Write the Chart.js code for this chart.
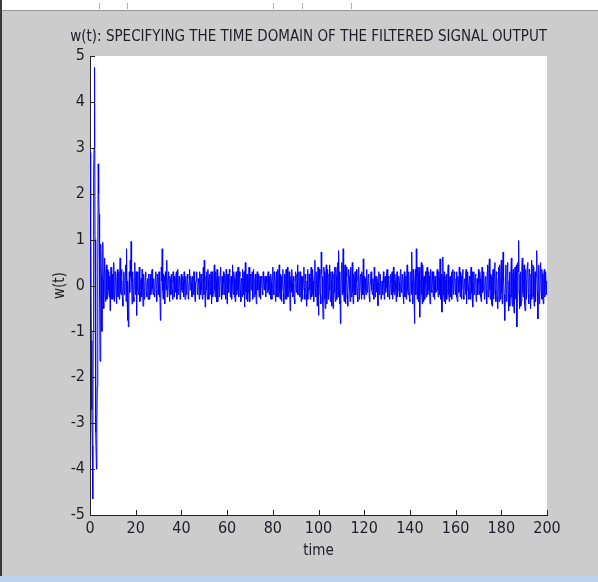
<!DOCTYPE html>
<html>
<head>
<meta charset="utf-8">
<script src="https://cdn.jsdelivr.net/npm/chart.js@4.4.1/dist/chart.umd.min.js"></script>
<style>
  html, body { margin: 0; padding: 0; background: #cccccc; overflow: hidden; }
  canvas { display: block; }
</style>
</head>
<body>
<canvas id="signalChart" width="598" height="582"></canvas>
<script>
const chartTitle = 'w(t): SPECIFYING THE TIME DOMAIN OF THE FILTERED SIGNAL OUTPUT';
const xAxisLabel = 'time';
const yAxisLabel = 'w(t)';

// sampling interval of the signal (time units)
const sampleStep = 0.2;

// w(t) values, one per sample (40 samples = 8 time units per row)
const wValues = [
  0, 2.9, 1.1, -1.2, -2.7, -3.5, -4.65, -1.0, 2.4, 3.0, 4.75, 1.0, -2.5, -3.2, -4.0, -3.0, -2.2, 0.5, 2.65, 2.0, 1.55, -0.3, -1.65, -0.5, 0.9, 0.2, -1.0, -0.2, 0.94, 0.1, -0.5, 0.3, 0.6, -0.2, -0.35, 0.25, 0.45, -0.3, -0.2, 0.35,
  0.3, -0.1, -0.25, 0.2, -0.55, 0.05, 0.4, -0.3, 0.1, 0.25, -0.3, 0.15, 0.5, -0.35, -0.15, 0.3, 0.2, -0.2, -0.4, 0.1, 0.35, -0.25, 0.05, 0.3, -0.3, 0.2, 0.6, -0.15, -0.2, 0.35, 0.15, -0.3, -0.45, 0.1, 0.3, -0.2, -0.1, 0.25, 0.45, -0.35,
  0.8, -0.2, -0.76, 0.1, -0.9, -0.3, 0.3, -0.15, 0.55, 0.2, 0.96, 0.1, -0.4, 0.3, 0.2, -0.25, -0.35, 0.15, 0.5, -0.2, 0.1, 0.3, -0.65, -0.1, 0.3, 0.05, -0.2, 0.25, 0.4, -0.35, -0.3, 0.1, 0.15, -0.25, 0.35, 0.05, -0.45, 0.25, 0.2, -0.3,
  -0.1, 0.2, 0.3, -0.15, -0.25, 0.1, 0.15, -0.3, 0.05, 0.25, -0.3, 0.1, 0.25, -0.2, -0.1, 0.3, 0.35, -0.05, -0.2, 0.15, 0.1, -0.25, -0.15, 0.2, 0.3, -0.1, -0.35, 0.25, 0.2, -0.2, 0.0, 0.3, -0.25, 0.1, -0.76, -0.3, 0.4, 0.1, 0.8, -0.1,
  -0.3, 0.25, 0.2, -0.15, -0.4, 0.3, 0.1, -0.1, 0.55, -0.25, -0.2, 0.15, 0.3, -0.1, -0.35, 0.2, 0.15, -0.2, 0.25, 0.05, -0.1, -0.3, 0.3, 0.1, -0.25, 0.2, 0.05, -0.15, 0.2, 0.3, -0.3, 0.05, 0.35, -0.2, -0.05, 0.2, 0.15, -0.3, -0.2, 0.1,
  0.25, -0.1, -0.15, 0.2, 0.1, -0.25, 0.3, 0.05, -0.3, 0.15, 0.2, -0.2, -0.05, 0.25, 0.15, -0.3, -0.25, 0.1, 0.35, -0.1, -0.1, 0.2, 0.05, -0.25, 0.2, 0.1, -0.2, 0.3, 0.3, -0.15, -0.35, 0.05, 0.1, 0.3, 0.25, -0.2, -0.15, 0.15, 0.05, -0.3,
  0.3, 0.05, -0.2, 0.25, 0.15, -0.1, -0.3, 0.2, 0.4, -0.2, 0.55, 0.1, -0.47, -0.1, 0.2, 0.3, -0.1, -0.3, 0.35, 0.1, -0.3, 0.15, 0.25, -0.2, 0.05, 0.3, -0.4, -0.05, 0.3, -0.25, -0.15, 0.2, 0.45, -0.1, -0.25, 0.3, 0.1, -0.35, 0.35, -0.05,
  -0.35, 0.1, 0.2, -0.25, -0.1, 0.3, 0.4, -0.05, -0.3, 0.2, 0.15, -0.2, 0.3, 0.05, -0.2, 0.25, 0.05, -0.3, 0.35, 0.1, -0.4, 0.2, 0.25, -0.1, -0.15, 0.35, 0.3, -0.25, 0.1, 0.2, -0.3, 0.05, 0.45, -0.15, -0.2, 0.3, 0.15, -0.25, -0.35, 0.2,
  0.3, -0.2, -0.1, 0.25, 0.4, -0.15, -0.25, 0.3, 0.2, -0.1, -0.35, 0.15, 0.1, -0.25, 0.35, 0.05, -0.2, 0.3, -0.47, 0.1, 0.5, -0.15, -0.3, 0.2, 0.25, -0.35, -0.15, 0.1, 0.4, -0.2, -0.35, 0.25, 0.2, -0.1, 0.05, 0.3, -0.3, 0.15, 0.35, -0.25,
  -0.15, 0.1, 0.25, -0.2, -0.4, 0.15, 0.3, -0.1, 0.1, 0.25, -0.25, 0.05, 0.2, -0.3, -0.05, 0.2, 0.15, -0.15, -0.2, 0.3, 0.1, -0.1, 0.05, 0.2, -0.1, -0.25, 0.2, 0.05, -0.15, 0.25, 0.3, -0.1, -0.2, 0.2, 0.1, -0.3, 0.25, 0.05, -0.3, 0.2,
  0.4, -0.1, -0.2, 0.3, 0.15, -0.2, -0.35, 0.1, 0.3, -0.25, 0.05, 0.35, -0.25, 0.1, 0.45, -0.15, -0.3, 0.25, 0.2, -0.35, -0.1, 0.15, 0.35, -0.2, -0.4, 0.05, 0.25, -0.3, 0.1, 0.35, -0.3, 0.1, 0.4, -0.25, -0.15, 0.2, 0.3, -0.1, -0.55, 0.15,
  0.2, -0.15, 0.35, 0.05, -0.25, 0.2, 0.1, -0.3, -0.4, 0.15, 0.3, -0.1, -0.15, 0.25, 0.45, -0.2, -0.2, 0.3, 0.05, -0.25, 0.3, 0.1, -0.35, 0.2, 0.2, -0.3, -0.1, 0.15, 0.4, -0.05, -0.3, 0.25, 0.15, -0.2, -0.45, 0.1, 0.35, -0.3, -0.05, 0.25,
  0.25, -0.1, -0.3, 0.2, 0.4, -0.25, -0.2, 0.35, 0.1, -0.3, -0.35, 0.2, 0.55, -0.1, -0.25, 0.3, 0.3, -0.45, 0.1, 0.4, -0.65, -0.2, 0.35, 0.15, -0.2, -0.4, 0.73, 0.25, 0.2, -0.35, -0.73, 0.1, 0.4, 0.3, -0.3, -0.5, 0.15, 0.45, -0.4, 0.2,
  0.35, -0.3, -0.2, 0.25, 0.45, -0.1, -0.35, 0.3, 0.1, -0.45, 0.3, 0.15, -0.5, -0.2, 0.25, 0.4, -0.15, -0.35, 0.4, 0.2, -0.3, 0.1, 0.5, -0.25, 0.76, 0.2, -0.4, 0.3, -0.83, -0.2, 0.3, 0.5, -0.2, 0.1, 0.8, -0.15, -0.35, 0.2, 0.45, -0.4,
  -0.3, 0.4, 0.2, -0.2, -0.45, 0.1, 0.35, 0.2, -0.1, -0.35, 0.4, 0.1, -0.25, 0.3, 0.5, -0.15, -0.4, 0.25, 0.15, -0.2, 0.3, 0.05, -0.2, 0.35, 0.1, -0.25, -0.35, 0.2, 0.4, -0.3, -0.15, 0.2, 0.25, -0.1, -0.3, 0.3, 0.2, -0.2, 0.58, -0.05,
  -0.3, 0.2, 0.15, -0.1, -0.2, 0.3, 0.35, -0.15, -0.1, 0.2, 0.25, -0.25, -0.35, 0.05, 0.1, 0.3, 0.3, -0.1, -0.2, 0.15, 0.05, -0.3, 0.4, 0.1, -0.25, 0.2, 0.15, -0.15, 0.2, 0.05, -0.44, 0.15, 0.3, -0.2, -0.1, 0.25, 0.25, -0.3, -0.2, 0.1,
  0.1, -0.2, 0.3, 0.05, -0.3, 0.15, 0.2, -0.15, -0.05, 0.25, 0.35, -0.1, -0.25, 0.2, 0.15, -0.3, -0.15, 0.1, 0.25, -0.2, 0.05, 0.3, -0.3, 0.1, 0.4, -0.15, -0.2, 0.25, 0.1, -0.1, -0.35, 0.2, 0.3, -0.25, -0.1, 0.15, 0.2, 0.05, -0.25, 0.3,
  0.35, -0.1, -0.15, 0.25, 0.2, -0.2, -0.4, 0.1, 0.3, -0.25, 0.05, 0.2, -0.3, 0.15, 0.45, -0.1, -0.2, 0.3, 0.1, -0.3, -0.35, 0.2, 0.3, -0.2, 0.73, 0.1, -0.4, 0.35, 0.2, -0.3, -0.83, 0.1, 0.35, -0.2, 0.8, 0.2, -0.3, 0.4, 0.25, -0.35,
  0.4, -0.2, -0.69, 0.1, 0.3, 0.5, -0.2, -0.4, 0.45, 0.15, -0.35, 0.2, 0.15, -0.3, 0.3, 0.05, -0.25, 0.35, 0.4, -0.2, -0.1, 0.3, 0.2, -0.15, -0.4, 0.25, 0.35, -0.1, -0.15, 0.3, 0.1, -0.25, 0.3, 0.1, -0.3, 0.2, 0.2, -0.15, -0.1, 0.3,
  0.35, -0.1, -0.25, 0.3, 0.15, -0.2, 0.58, 0.1, -0.3, 0.25, -0.58, -0.1, 0.62, 0.2, -0.2, -0.35, 0.3, 0.1, -0.4, 0.2, 0.25, -0.3, -0.1, 0.35, 0.45, -0.2, -0.35, 0.15, 0.2, -0.25, 0.05, 0.3, -0.3, 0.1, 0.35, -0.2, -0.15, 0.3, 0.25, -0.1,
  -0.2, 0.15, 0.3, -0.25, -0.35, 0.2, 0.1, -0.15, 0.4, 0.05, -0.25, 0.3, 0.2, -0.3, -0.1, 0.25, 0.35, -0.2, -0.3, 0.1, 0.15, -0.2, 0.25, 0.35, -0.4, -0.1, 0.3, 0.15, -0.05, -0.3, 0.2, 0.1, -0.3, 0.25, 0.4, -0.15, -0.2, 0.3, -0.47, 0.05,
  0.3, -0.2, -0.15, 0.2, 0.25, -0.35, -0.3, 0.15, 0.1, -0.2, 0.35, 0.05, -0.2, 0.3, 0.15, -0.25, -0.35, 0.1, 0.4, -0.15, -0.1, 0.25, 0.3, -0.3, -0.25, 0.15, 0.2, -0.1, -0.4, 0.3, 0.45, -0.25, -0.2, 0.35, 0.58, -0.1, -0.3, 0.25, 0.2, -0.4,
  -0.45, 0.2, 0.35, -0.3, -0.2, 0.4, 0.5, -0.1, -0.35, 0.3, 0.25, -0.25, -0.5, 0.15, 0.4, -0.35, 0.1, 0.45, -0.3, 0.2, 0.55, -0.15, -0.4, 0.3, 0.73, 0.1, -0.2, -0.5, -0.76, 0.2, 0.45, -0.35, -0.3, 0.4, 0.5, -0.2, -0.55, 0.1, 0.3, -0.45,
  -0.2, 0.3, 0.6, -0.25, -0.45, 0.2, 0.35, -0.4, -0.6, 0.15, 0.4, -0.3, 0.2, 0.45, -0.9, -0.2, 0.5, 0.3, 0.98, -0.1, -0.5, 0.25, 0.3, -0.45, -0.35, 0.4, 0.6, -0.15, -0.25, 0.3, 0.45, -0.4, -0.55, 0.2, 0.35, -0.3, -0.3, 0.45, 0.5, -0.2,
  -0.4, 0.35, 0.3, -0.2, -0.5, 0.25, 0.55, -0.3, -0.2, 0.45, 0.4, -0.25, -0.45, 0.1, 0.3, -0.35, 0.2, 0.5, 0.76, -0.15, -0.73, 0.2, 0.45, -0.4, -0.35, 0.3, 0.5, -0.1, -0.3, 0.35, 0.25, -0.3, -0.4, 0.15, 0.35, -0.25, 0.1, 0.3, -0.2, 0.1
];

const xTicks = [0, 20, 40, 60, 80, 100, 120, 140, 160, 180, 200];
const yTicks = [-5, -4, -3, -2, -1, 0, 1, 2, 3, 4, 5];

const FONT = "'Liberation Sans Narrow', 'DejaVu Sans Condensed', 'Liberation Sans', sans-serif";
const TEXT_COLOR = '#1e1e28';

// MATLAB-ish figure window: grey figure, white axes, inward ticks
const figureFrame = {
    id: 'figureFrame',
    beforeDraw(chart) {
        const ctx = chart.ctx;
        const area = chart.chartArea;
        ctx.save();
        ctx.fillStyle = '#cccccc';
        ctx.fillRect(0, 0, chart.width, chart.height);
        // window toolbar strip
        ctx.fillStyle = '#ffffff';
        ctx.fillRect(0, 0, chart.width, 10);
        ctx.fillStyle = '#9a9a9a';
        ctx.fillRect(0, 10, chart.width, 1);
        ctx.fillStyle = '#b0b0b0';
        [99, 127, 273, 302, 351].forEach(x => ctx.fillRect(x, 3, 1, 6));
        // left window edge and bottom taskbar strip
        ctx.fillStyle = '#3a3a3a';
        ctx.fillRect(0, 0, 2, chart.height - 6);
        ctx.fillStyle = '#bcd3ee';
        ctx.fillRect(0, chart.height - 6, chart.width, 6);
        // axes background
        ctx.fillStyle = '#ffffff';
        ctx.fillRect(area.left, area.top, area.right - area.left, area.bottom - area.top);
        ctx.restore();
    },
    afterDraw(chart) {
        const ctx = chart.ctx;
        const area = chart.chartArea;
        const xs = chart.scales.x;
        const ys = chart.scales.y;
        ctx.save();
        ctx.strokeStyle = '#222222';
        ctx.lineWidth = 1;
        ctx.beginPath();
        xTicks.forEach(v => {
            const px = Math.round(xs.getPixelForValue(v)) + 0.5;
            ctx.moveTo(px, area.bottom);
            ctx.lineTo(px, area.bottom - 5);
        });
        yTicks.forEach(v => {
            const py = Math.round(ys.getPixelForValue(v)) + 0.5;
            ctx.moveTo(area.left, py);
            ctx.lineTo(area.left + 5, py);
        });
        ctx.stroke();
        ctx.restore();
    }
};

const points = wValues.map((w, i) => ({ x: i * sampleStep, y: w }));

new Chart(document.getElementById('signalChart'), {
    type: 'line',
    data: {
        datasets: [{
            label: yAxisLabel,
            data: points,
            borderColor: '#0000ff',
            borderWidth: 1,
            pointRadius: 0,
            tension: 0,
            fill: false
        }]
    },
    options: {
        responsive: false,
        animation: false,
        devicePixelRatio: 1,
        layout: { padding: { left: 0, right: 51, top: 0, bottom: 0 } },
        plugins: {
            legend: { display: false },
            tooltip: { enabled: false },
            title: {
                display: true,
                align: 'end',
                text: chartTitle,
                color: TEXT_COLOR,
                font: { family: FONT, size: 15, weight: 'normal', lineHeight: 1.2 },
                padding: { top: 28, bottom: 10 }
            }
        },
        scales: {
            x: {
                type: 'linear',
                min: 0,
                max: 200,
                afterBuildTicks: s => { s.ticks = xTicks.map(v => ({ value: v })); },
                afterFit: s => { s.height = 67; s.paddingLeft = 0; s.paddingRight = 0; },
                grid: { display: true, drawOnChartArea: false, drawTicks: false },
                border: { display: true, color: '#222222', width: 1 },
                ticks: { color: TEXT_COLOR, font: { family: FONT, size: 16 }, padding: 4, maxRotation: 0, autoSkip: false },
                title: {
                    display: true,
                    text: xAxisLabel,
                    color: TEXT_COLOR,
                    font: { family: FONT, size: 15 },
                    padding: { top: 0, bottom: 22 }
                }
            },
            y: {
                type: 'linear',
                min: -5,
                max: 5,
                afterBuildTicks: s => { s.ticks = yTicks.map(v => ({ value: v })); },
                afterFit: s => { s.width = 90; s.paddingTop = 0; s.paddingBottom = 0; },
                grid: { display: true, drawOnChartArea: false, drawTicks: false },
                border: { display: true, color: '#222222', width: 1 },
                ticks: { color: TEXT_COLOR, font: { family: FONT, size: 16 }, padding: 5, autoSkip: false },
                title: {
                    display: true,
                    text: yAxisLabel,
                    color: TEXT_COLOR,
                    font: { family: FONT, size: 15 },
                    padding: { top: 51, bottom: 0 }
                }
            }
        }
    },
    plugins: [figureFrame]
});
</script>
</body>
</html>
